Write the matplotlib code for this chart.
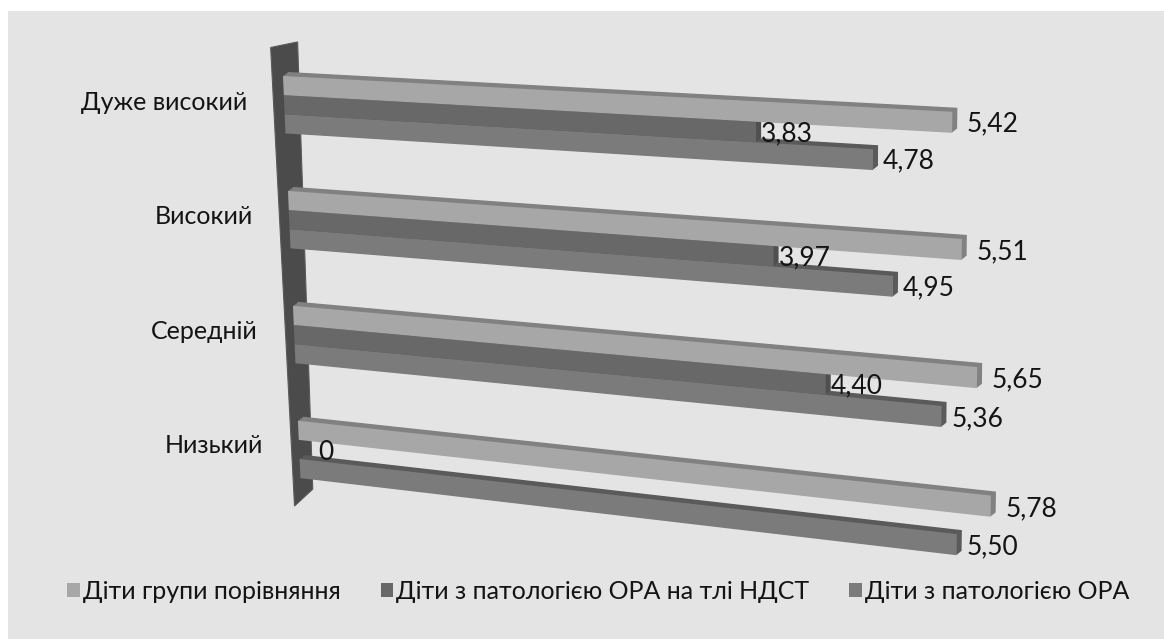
import numpy as np
import matplotlib
matplotlib.use("Agg")
import matplotlib.pyplot as plt
from matplotlib.transforms import Transform, Affine2D
from matplotlib.patches import Polygon, Rectangle, Patch

# ---------------- data ----------------
categories = ["Дуже високий", "Високий", "Середній", "Низький"]
series_names = ["Діти групи порівняння",
                "Діти з патологією ОРА на тлі НДСТ",
                "Діти з патологією ОРА"]
comparison = [5.42, 5.51, 5.65, 5.78]
ora_ndst = [3.83, 3.97, 4.40, 0]
ora = [4.78, 4.95, 5.36, 5.50]
series_values = [comparison, ora_ndst, ora]

# ---------------- style ----------------
front_colors = ["#a7a7a7", "#686868", "#7b7b7b"]
side_colors = ["#818181", "#4f4f4f", "#5a5a5a"]
label_pad = [0.12, 0.04, 0.08]
bg = "#e4e4e4"
txt = "#141414"
fs = 18

plt.rcParams['font.family'] = ['Lato', 'DejaVu Sans']

W, H = 1164, 639
fig = plt.figure(figsize=(W / 100, H / 100), dpi=100)
fig.patch.set_facecolor("white")
ax = fig.add_axes([0, 0, 1, 1])
ax.set_xlim(0, W)
ax.set_ylim(H, 0)
ax.axis("off")
ax.add_patch(Rectangle((8, 11), W, H, facecolor=bg, edgecolor="none", zorder=0))


class Perspective(Transform):
    """Maps (value, row) to the pixel plane of the tilted 3-D chart."""
    input_dims = 2
    output_dims = 2
    is_separable = False
    has_inverse = False

    def __init__(self):
        super().__init__()
        self.x0, self.bx, self.ax_, self.nx = 283.0, 0.83, 123.5, -0.2
        self.y0, self.ey, self.dy, self.my = 76.0, 19.15, 6.6, 0.353

    def transform_non_affine(self, xy):
        xy = np.asarray(xy, dtype=float).reshape(-1, 2)
        v, r = xy[:, 0], xy[:, 1]
        X = self.x0 + self.bx * r + self.ax_ * v + self.nx * r * v
        Y = self.y0 + self.ey * r + self.dy * v + self.my * r * v
        return np.column_stack([X, Y])


P = Perspective()
T = P + ax.transData

rows_per_group = 6
n_groups = len(categories)
group_top = np.arange(n_groups) * rows_per_group

# wall (category axis side wall)
wall = Polygon([(-0.09, -1.46), (0.13, -1.82), (0.10, 21.5), (-0.06, 22.5)],
               closed=True, facecolor="#4b4b4b", edgecolor="#5a5a5a",
               lw=0.8, transform=T, zorder=1)
ax.add_patch(wall)

# bars: bottom-most series first so upper bars hide lower top faces
depth_dx, depth_dy = 5.0, 4.0
steps = 6
z = 2
for s in [2, 1, 0]:
    vals = np.array(series_values[s], dtype=float)
    rows = group_top + s
    for k in range(steps, 0, -1):
        off = Affine2D().translate(depth_dx * k / steps, depth_dy * k / steps)
        ax.barh(rows, vals, height=1.0, left=0, align="edge",
                color=side_colors[s], edgecolor="none",
                transform=T + off, zorder=z)
        z += 0.01
    ax.barh(rows, vals, height=1.0, left=0, align="edge",
            color=front_colors[s], edgecolor="none", transform=T, zorder=z)
    z += 0.01

# value labels
for s in range(3):
    for g in range(n_groups):
        v = series_values[s][g]
        lab = f"{v:.2f}".replace(".", ",") if v != 0 else "0"
        lv = max(v + label_pad[s], 0.16)
        ax.text(lv, group_top[g] + s + 0.55, lab, transform=T,
                ha="left", va="center", fontsize=fs + 1, color=txt, zorder=10)

# category labels
for g, name in enumerate(categories):
    ax.text(-0.3, group_top[g] + 1.5, name, transform=T, ha="right",
            va="center", fontsize=fs, color=txt, zorder=10)

handles = [Patch(facecolor=front_colors[i], edgecolor="none", label=series_names[i])
           for i in range(3)]
leg = ax.legend(handles=handles, loc="center", bbox_to_anchor=(0.514, 0.075),
                ncol=3, frameon=False, fontsize=fs, handlelength=0.5,
                handleheight=0.5, handletextpad=0.12, columnspacing=1.6)
for t in leg.get_texts():
    t.set_color(txt)

fig.savefig("out.png", dpi=100, facecolor=fig.get_facecolor())
